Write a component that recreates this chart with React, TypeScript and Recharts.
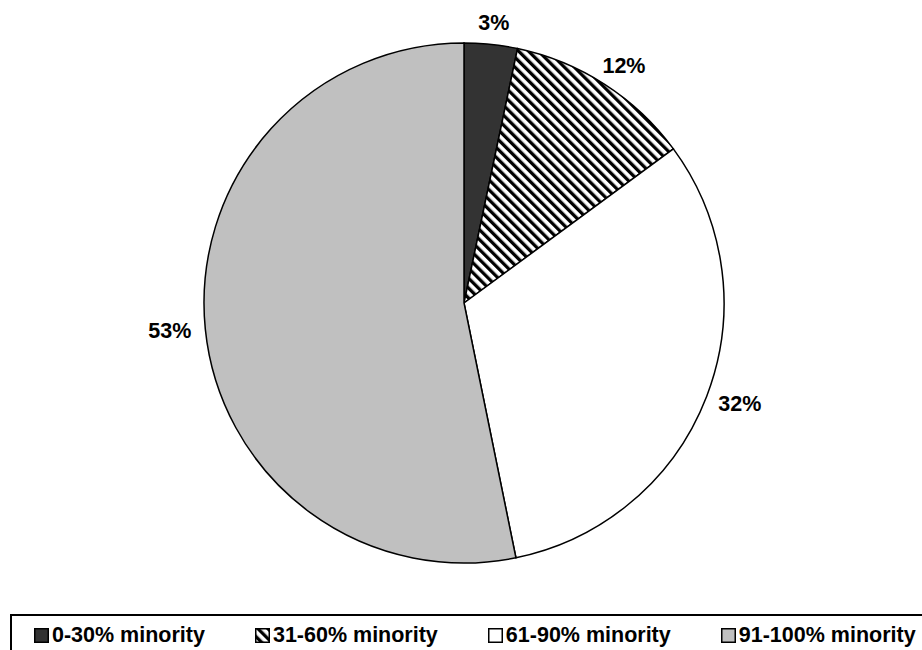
import React from 'react'
import { PieChart, Pie, Cell, Legend } from 'recharts'

const categories = ['0-30% minority', '31-60% minority', '61-90% minority', '91-100% minority']
const shares = [3.3, 11.6, 31.9, 53.2]
const fills = ['#333333', 'url(#hatch)', '#ffffff', '#c0c0c0']

const data = categories.map((name, i) => ({ name, value: shares[i] }))

const RAD = Math.PI / 180
const FONT = '"Liberation Sans", Arial, sans-serif'

const renderLabel = (props: any) => {
  const { cx, cy, midAngle, outerRadius, percent } = props
  const text = `${Math.round(percent * 100)}%`
  const ux = Math.cos(-midAngle * RAD)
  const uy = Math.sin(-midAngle * RAD)
  const d = outerRadius + 14
  const halfW = text.length * 7.2
  const x = cx + d * ux + ux * halfW
  const y = cy + d * uy + uy * 8
  return (
    <text
      x={x}
      y={y}
      textAnchor="middle"
      dominantBaseline="central"
      fill="#000"
      fontFamily={FONT}
      fontWeight="bold"
      fontSize={21.5}
    >
      {text}
    </text>
  )
}

const renderLegend = () => (
  <div
    style={{
      boxSizing: 'border-box',
      width: 930,
      height: 60,
      border: '2px solid #000',
      display: 'flex',
      justifyContent: 'flex-start',
      alignItems: 'flex-start',
      gap: 50,
      padding: '7px 0 0 22px',
      fontFamily: FONT,
      fontWeight: 'bold',
      fontSize: 21.5,
      color: '#000',
    }}
  >
    {categories.map((name, i) => (
      <div key={name} style={{ display: 'flex', alignItems: 'center', whiteSpace: 'nowrap' }}>
        <svg width={15} height={15} style={{ marginRight: 3 }}>
          <rect x={0.75} y={0.75} width={13.5} height={13.5} fill={fills[i]} stroke="#000" strokeWidth={1.5} />
        </svg>
        <span>{name}</span>
      </div>
    ))}
  </div>
)

export default function App() {
  return (
    <div style={{ position: 'absolute', left: 0, top: 0, width: 922, height: 650, overflow: 'hidden', background: '#fff' }}>
      <PieChart width={922} height={650} margin={{ top: 0, right: 0, bottom: 0, left: 0 }}>
        <defs>
          <pattern id="hatch" patternUnits="userSpaceOnUse" width={7} height={7} patternTransform="rotate(-45)">
            <rect width={7} height={7} fill="#fff" />
            <rect width={3.3} height={7} fill="#000" />
          </pattern>
        </defs>
        <Pie
          data={data}
          dataKey="value"
          nameKey="name"
          cx={464}
          cy={303}
          outerRadius={260}
          startAngle={90}
          endAngle={-270}
          stroke="#000"
          strokeWidth={1.5}
          label={renderLabel}
          labelLine={false}
          isAnimationActive={false}
        >
          {data.map((d, i) => (
            <Cell key={d.name} fill={fills[i]} />
          ))}
        </Pie>
        <Legend
          verticalAlign="bottom"
          content={renderLegend}
          wrapperStyle={{ left: 10, top: 614, bottom: 'auto', width: 930 }}
        />
      </PieChart>
    </div>
  )
}
